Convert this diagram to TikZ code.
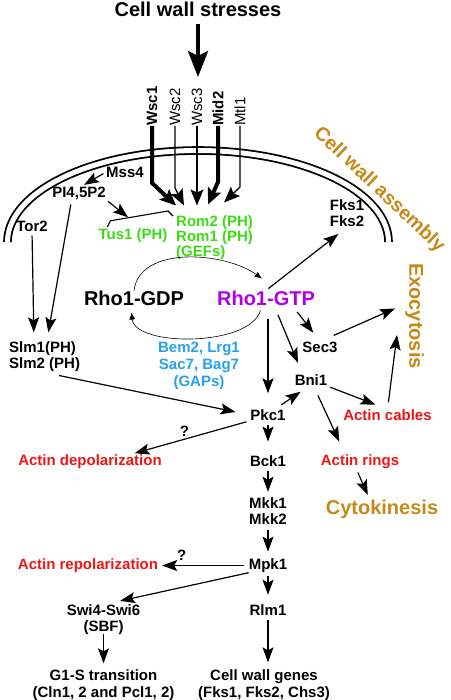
\documentclass[tikz,border=0pt]{standalone}
\usepackage{fontspec}
\setmainfont{Liberation Sans}
\usetikzlibrary{arrows.meta,calc}
\definecolor{gefgreen}{RGB}{60,220,20}
\definecolor{gapblue}{RGB}{40,160,235}
\definecolor{gtppurple}{RGB}{175,0,235}
\definecolor{actred}{RGB}{240,20,20}
\definecolor{procgold}{RGB}{200,136,24}
\newcommand{\lblfont}{\fontsize{15}{16}\selectfont\bfseries}
\newcommand{\bigfont}{\fontsize{20}{20}\selectfont\bfseries}
\tikzset{
  lbl/.style={font=\lblfont, inner sep=0pt, align=center},
  redlbl/.style={lbl, text=actred},
  big/.style={font=\bigfont, inner sep=0pt},
  rcpt/.style={font=\fontsize{15}{15}\selectfont, inner sep=0pt, rotate=90, anchor=west},
  rcptb/.style={rcpt, font=\fontsize{15}{15}\selectfont\bfseries},
  sig/.style={line width=1.2pt, -{Stealth[length=15pt,width=11pt,inset=3pt]}},
  rthin/.style={line width=1.3pt, -{Stealth[length=16pt,width=13pt,inset=3pt]}},
  rthick/.style={line width=4pt, -{Stealth[length=16pt,width=14pt,inset=3pt]}},
  fat/.style={line width=4pt, -{Stealth[length=26pt,width=20pt,inset=5pt]}},
  cyc/.style={line width=0.6pt, -{Latex[length=7pt,width=6pt]}}
}
\begin{document}
\begin{tikzpicture}[x=1pt,y=-1pt]
\useasboundingbox (0,0) rectangle (450,700);
\draw[line width=1.8pt, double distance=5pt] plot[domain=180:0, samples=90, smooth] ({198+190.5*cos(\x)},{242-91.5*sin(\x)});

\node[big] (stress) at (198,9) {Cell wall stresses};
\coordinate (stresstip) at (198,77);
\node[big, text=procgold, font=\fontsize{19.5}{19.5}\selectfont\bfseries, rotate=-43.5] (cwa) at (379,190) {Cell wall assembly};
\node[rcptb] (wscone) at (152,126) {Wsc1};
\node[rcpt] (wsctwo) at (175,126) {Wsc2};
\node[rcpt] (wscthree) at (197,126) {Wsc3};
\node[rcptb] (midtwo) at (218,126) {Mid2};
\node[rcpt] (mtlone) at (240,126) {Mtl1};
\node[lbl] (mss) at (125,172) {Mss4};
\node[lbl] (pip) at (79,193) {PI4,5P2};
\node[lbl] (tor) at (32,226) {Tor2};
\node[lbl, text=gefgreen] (tus) at (133,236) {Tus1 (PH)};
\node[lbl, text=gefgreen, align=left, font=\fontsize{15}{15}\selectfont\bfseries, anchor=north west] (gef) at (176,215.5) {Rom2 (PH)\\Rom1 (PH)\\(GEFs)};
\node[lbl] (fks) at (347,213.5) {Fks1\\Fks2};
\node[big] (rhogdp) at (134,298) {Rho1-GDP};
\node[big, text=gtppurple] (rhogtp) at (266,298) {Rho1-GTP};
\node[lbl, text=gapblue, font=\fontsize{15}{17}\selectfont\bfseries] (gap) at (199,365.5) {Bem2, Lrg1\\Sac7, Bag7\\(GAPs)};
\node[lbl, align=left, anchor=west] (slm) at (9,356.5) {Slm1(PH)\\Slm2 (PH)};
\node[lbl] (sec) at (320,347) {Sec3};
\node[lbl] (bni) at (311,380.5) {Bni1};
\node[lbl] (pkc) at (268,415) {Pkc1};
\node[redlbl] (cables) at (387.5,415) {Actin cables};
\node[big, text=procgold, rotate=-90] (exo) at (414.5,316) {Exocytosis};
\node[redlbl] (depol) at (90,461.5) {Actin depolarization};
\node[lbl] (bck) at (268,461) {Bck1};
\node[redlbl] (rings) at (360,461.5) {Actin rings};
\node[big, text=procgold] (cyto) at (382,509) {Cytokinesis};
\node[lbl] (mkk) at (268,511) {Mkk1\\Mkk2};
\node[lbl] (mpk) at (268,565.5) {Mpk1};
\node[redlbl] (repol) at (88,565.5) {Actin repolarization};
\node[lbl, font=\fontsize{15}{15.5}\selectfont\bfseries] (swi) at (103.5,619.5) {Swi4-Swi6\\(SBF)};
\node[lbl] (rlm) at (268,610) {Rlm1};
\node[lbl, font=\fontsize{15}{17}\selectfont\bfseries] (gone) at (103.5,685) {G1-S transition\\(Cln1, 2 and Pcl1, 2)};
\node[lbl, font=\fontsize{15}{17}\selectfont\bfseries] (genes) at (264,685) {Cell wall genes\\(Fks1, Fks2, Chs3)};

\draw[fat, shorten <=7pt] (stress) -- (stresstip);
\draw[rthick] (wscone.west) -- ++(0,57) -- ($(gef.north west)+(0,-10)$);
\draw[rthin] (wsctwo.west) -- ++(0,62) -- ($(gef.north west)+(8,-10)$);
\draw[rthin] (wscthree.west) -- ($(gef.north west)+(21,-10)$);
\draw[rthick] (midtwo.west) -- ++(0,56) -- ($(gef.north west)+(32,-11)$);
\draw[rthin] (mtlone.west) -- ++(0,61) -- ($(gef.north west)+(48,-13)$);

\draw[sig, shorten <=3pt, shorten >=3pt] (mss.west) -- (pip.70);
\draw[line width=1.1pt] ([shift={(9,-2)}]tus.north west) -- ++(3,-6) -- ($(gef.north west)+(-8,-4.5)$) -- ($(gef.north west)+(-3,0.5)$);
\coordinate (brk) at (128,217.3);
\draw[sig, shorten <=3pt] (pip.south east) -- (brk);
\draw[sig, shorten <=4pt, shorten >=9pt] (tor.south) -- (slm.125);
\draw[sig, shorten <=5pt, shorten >=9pt] (pip.-138) -- (slm.82);

\draw[cyc] (rhogdp.north) .. controls (140,245) and (225,252) .. ([yshift=12pt]rhogtp.119);
\draw[cyc, shorten <=5pt, shorten >=7pt] (rhogtp.-119) .. controls (250,347) and (135,347) .. (rhogdp.-113);

\draw[sig, shorten <=3pt, shorten >=11pt] (rhogtp.north) -- (fks.south);
\draw[sig, shorten <=8pt, shorten >=11pt] (rhogtp.-16) -- (sec.north);
\draw[sig, shorten <=10pt, shorten >=13pt] (rhogtp.-43) -- (bni.145);
\draw[sig, shorten <=13pt, shorten >=16pt] (rhogtp.south -| pkc.north) -- (pkc.north);
\draw[sig, shorten <=8pt, shorten >=10pt] (pkc.40) -- (bni.-111);
\draw[sig, shorten <=19pt, shorten >=15pt] (slm.-105) -- (pkc.west);
\draw[sig, shorten <=15pt, shorten >=11pt] (sec.north) -- ([yshift=12pt]exo.south);
\draw[sig, shorten <=7pt] (cables.north) -- ([xshift=-8pt,yshift=-19pt]exo.south);
\draw[sig, shorten <=3pt, shorten >=13pt] (bni.south east) -- (cables.north);
\draw[sig, shorten <=10pt, shorten >=14pt] (bni.-65) -- (rings.154);
\draw[sig, shorten <=4pt, shorten >=5pt] (rings.-118) -- (cyto.142);
\draw[sig, shorten <=4pt, shorten >=4pt] (pkc.south west) -- node[lbl, pos=0.55, above=2pt] (qone) {?} (depol.10);
\draw[sig, shorten <=4pt, shorten >=13.7pt] (pkc.south) -- (bck.north);
\draw[sig, shorten <=4pt, shorten >=5.6pt] (bck.south) -- (mkk.north);
\draw[sig, shorten <=5.6pt, shorten >=6.7pt] (mkk.south) -- (mpk.north);
\draw[sig, shorten <=5pt, shorten >=4pt] (mpk.west) -- node[lbl, pos=0.74, above=4pt] (qtwo) {?} (repol.east);
\draw[sig, shorten >=17pt] (mpk.south west) -- (swi.north);
\draw[sig, shorten >=6pt] (swi.south) -- (gone.north);
\draw[sig, shorten <=3pt, shorten >=9.6pt] (mpk.south) -- (rlm.north);
\draw[sig, shorten <=4.6pt, shorten >=7pt] (rlm.south) -- (genes.north -| rlm.south);
\end{tikzpicture}
\end{document}
